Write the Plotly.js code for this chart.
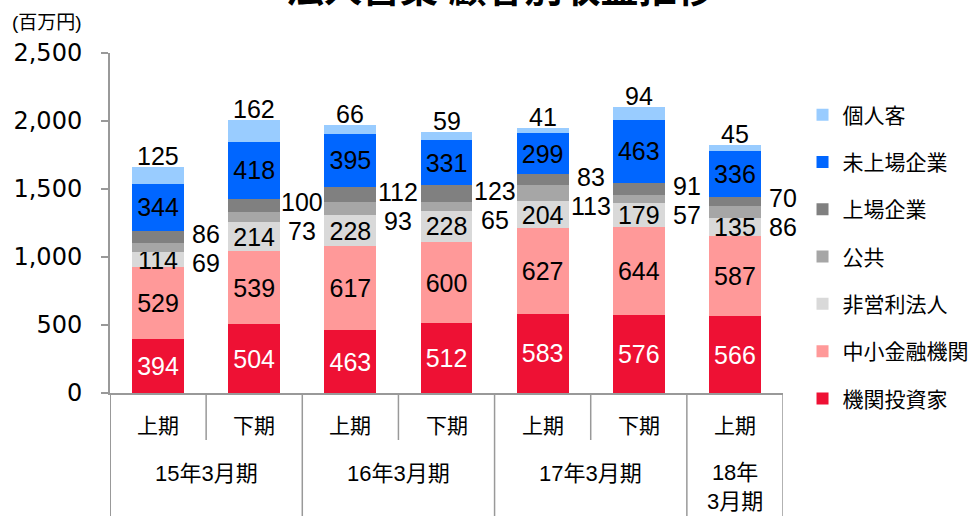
<!DOCTYPE html>
<html>
<head>
<meta charset="utf-8">
<script src="https://cdn.plot.ly/plotly-3.0.1.min.js"></script>
<style>html,body{margin:0;padding:0;background:#fff;}#chart{width:974px;height:516px;}</style>
</head>
<body>
<div id="chart"></div>
<script>
// categories
const periodGroups = ['15年3月期','15年3月期','16年3月期','16年3月期','17年3月期','17年3月期','18年<br>3月期'];
const halves = ['上期','下期','上期','下期','上期','下期','上期'];

// series (bottom to top)
const institutional = [394, 504, 463, 512, 583, 576, 566];   // 機関投資家
const smallFinance  = [529, 539, 617, 600, 627, 644, 587];   // 中小金融機関
const nonProfit     = [114, 214, 228, 228, 204, 179, 135];   // 非営利法人
const publicSector  = [69, 73, 93, 65, 113, 57, 86];         // 公共
const listed        = [86, 100, 112, 123, 83, 91, 70];       // 上場企業
const unlisted      = [344, 418, 395, 331, 299, 463, 336];   // 未上場企業
const individual    = [125, 162, 66, 59, 41, 94, 45];        // 個人客

const yTicks = [0, 500, 1000, 1500, 2000, 2500];

const NUM = '"Liberation Sans", Arial, sans-serif';
const TICK = '"DejaVu Sans", "Liberation Sans", sans-serif';
const CJK = '"Liberation Sans", "Noto Sans CJK JP", sans-serif';

const series = [
  {name:'機関投資家', data: institutional, color:'#EE1134', text:true, tc:'#ffffff'},
  {name:'中小金融機関', data: smallFinance, color:'#FF9999', text:true, tc:'#000000'},
  {name:'非営利法人', data: nonProfit, color:'#D9D9D9', text:true, tc:'#000000'},
  {name:'公共', data: publicSector, color:'#A6A6A6', text:false},
  {name:'上場企業', data: listed, color:'#808080', text:false},
  {name:'未上場企業', data: unlisted, color:'#0066FF', text:true, tc:'#000000'},
  {name:'個人客', data: individual, color:'#99CCFF', text:false}
];

// unique category keys built from group + half
const catKeys = halves.map((h, i) => periodGroups[i] + '|' + h);

const traces = series.map((s, k) => ({
  type: 'bar',
  name: s.name,
  x: catKeys,
  y: s.data,
  legendgroup: 'g' + k,
  legendrank: series.length - k,
  marker: {color: s.color, line: {width: 0}},
  text: s.text ? s.data.map(String) : undefined,
  textposition: s.text ? 'inside' : 'none',
  insidetextanchor: 'middle',
  constraintext: 'none',
  textangle: 0,
  insidetextfont: {family: NUM, size: 25, color: s.tc || '#000'},
  hoverinfo: 'skip',
  cliponaxis: false
}));

const n = individual.length;
const PX_PER_UNIT = 340 / 2500;
const annotations = [];
const shapes = [];
for (let i = 0; i < n; i++) {
  const total = institutional[i] + smallFinance[i] + nonProfit[i] + publicSector[i] + listed[i] + unlisted[i] + individual[i];
  annotations.push({xref:'x', yref:'y', x: i, y: total, text: String(individual[i]),
    showarrow:false, yanchor:'bottom', yshift:-5, font:{family:NUM, size:25, color:'#000'}});
  const base = institutional[i] + smallFinance[i] + nonProfit[i];
  const pubCenter = base + publicSector[i] / 2;
  const listCenter = base + publicSector[i] + listed[i] / 2;
  const pubY = Math.min(pubCenter, listCenter - 26 / PX_PER_UNIT);
  annotations.push({xref:'x', yref:'y', x: i + 0.5, y: listCenter, text: String(listed[i]),
    showarrow:false, yanchor:'middle', yshift:3, font:{family:NUM, size:25, color:'#000'}});
  annotations.push({xref:'x', yref:'y', x: i + 0.5, y: pubY, text: String(publicSector[i]),
    showarrow:false, yanchor:'middle', yshift:0, font:{family:NUM, size:25, color:'#000'}});
  // half labels
  annotations.push({xref:'x', yref:'paper', x: i, y: 0, text: halves[i],
    showarrow:false, yanchor:'middle', yshift:-32, font:{family:CJK, size:21, color:'#000'}});
}
// group labels and dividers
let start = 0;
for (let i = 1; i <= n; i++) {
  if (i === n || periodGroups[i] !== periodGroups[start]) {
    const multi = periodGroups[start].includes('<br>');
    annotations.push({xref:'x', yref:'paper', x: (start + i - 1) / 2, y: 0, text: periodGroups[start],
      showarrow:false, yanchor:'middle', yshift: multi ? -94 : -80,
      font:{family:CJK, size:22, color:'#000'}});
    for (let j = start + 1; j < i; j++) {
      shapes.push({type:'line', xref:'x', yref:'paper', x0: j - 0.5, x1: j - 0.5, y0: 0, y1: -47 / 340,
        line:{color:'#999999', width:1.5}});
    }
    shapes.push({type:'line', xref:'x', yref:'paper', x0: i - 0.5, x1: i - 0.5, y0: 0, y1: -130 / 340,
      line:{color:'#999999', width:1.5}});
    start = i;
  }
}
shapes.push({type:'line', xref:'x', yref:'paper', x0: -0.5, x1: -0.5, y0: 0, y1: -130 / 340,
  line:{color:'#999999', width:2}});

annotations.push({xref:'paper', yref:'paper', x: -0.148, y: 1, xanchor:'left', yanchor:'middle', yshift:31,
  text:'(百万円)', showarrow:false, font:{family:CJK, size:19, color:'#000'}});
annotations.push({xref:'paper', yref:'paper', x: 0.58, y: 1, xanchor:'center', yanchor:'bottom', yshift:41,
  text:'<b>法人営業 顧客別収益推移</b>', showarrow:false, font:{family:CJK, size:38, color:'#000'}});

const layout = {
  width: 974, height: 516,
  margin: {l: 110, r: 191, t: 53, b: 123, autoexpand: false},
  paper_bgcolor: '#ffffff', plot_bgcolor: '#ffffff',
  barmode: 'stack',
  bargap: 0.46,
  showlegend: true,
  legend: {
    x: 1.029, xanchor: 'left', y: 0.878, yanchor: 'top',
    traceorder: 'grouped', tracegroupgap: 17,
    font: {family: CJK, size: 21, color: '#000'},
    itemwidth: 30, bgcolor: 'rgba(0,0,0,0)'
  },
  xaxis: {
    type: 'category', range: [-0.5, n - 0.5],
    showline: true, linecolor: '#999999', linewidth: 2,
    ticks: '', showticklabels: false,
    showgrid: false, zeroline: false, fixedrange: true
  },
  yaxis: {
    range: [0, 2500], tickvals: yTicks, tickformat: ',',
    showline: true, linecolor: '#999999', linewidth: 2,
    ticks: 'outside', ticklen: 7, tickcolor: '#999999', tickwidth: 1.5,
    ticklabelstandoff: 14,
    tickfont: {family: TICK, size: 24, color: '#000'},
    showgrid: false, zeroline: false, fixedrange: true
  },
  annotations: annotations,
  shapes: shapes
};

Plotly.newPlot('chart', traces, layout, {displayModeBar: false, staticPlot: true});
</script>
</body>
</html>
